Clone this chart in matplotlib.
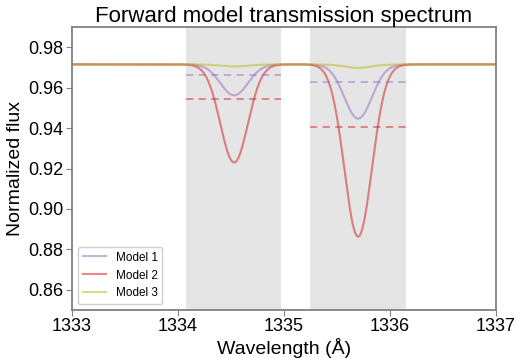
import numpy as np
import matplotlib
matplotlib.use("Agg")
import matplotlib.pyplot as plt

plt.rcParams['font.family'] = ['Liberation Sans', 'DejaVu Sans']

# ---- data ----
model_names = ["Model 1", "Model 2", "Model 3"]
continuum = 0.9715
line_centers = [1334.53, 1335.70]          # Å
line_sigma = [0.13, 0.13]                  # Å
depth_model1 = [0.0153, 0.0268]            # continuum - minimum
depth_model2 = [0.0485, 0.0852]
depth_model3 = [0.0010, 0.0017]
mean_model1 = [0.9665, 0.9627]             # dashed band means
mean_model2 = [0.9544, 0.9405]
band_lo = [1334.08, 1335.25]
band_hi = [1334.97, 1336.15]
x_ticks = [1333, 1334, 1335, 1336, 1337]
y_ticks = [0.86, 0.88, 0.90, 0.92, 0.94, 0.96, 0.98]

colors = ["#9467bd", "#d62728", "#bcbd22"]
alphas = [0.5, 0.55, 0.55]

wave = np.linspace(1333, 1337, 2000)

def profile(depths):
    f = np.full_like(wave, continuum)
    for c, s, d in zip(line_centers, line_sigma, depths):
        f -= d * np.exp(-0.5 * ((wave - c) / s) ** 2)
    return f

fig = plt.figure(figsize=(5.16, 3.58), dpi=100)
ax = fig.add_axes([0.1395, 0.134, 0.8215, 0.7906])

for lo, hi in zip(band_lo, band_hi):
    ax.axvspan(lo, hi, color='grey', alpha=0.2, lw=0)

for name, depths, col, a in zip(model_names,
                                [depth_model1, depth_model2, depth_model3],
                                colors, alphas):
    ax.plot(wave, profile(depths), color=col, alpha=a, lw=1.5, label=name)

for means, col, a in zip([mean_model1, mean_model2], colors[:2], alphas[:2]):
    for lo, hi, m in zip(band_lo, band_hi, means):
        ax.hlines(m, lo, hi, colors=col, alpha=a, lw=1.3, linestyles=(0, (4, 3)))

ax.set_xlim(1333, 1337)
ax.set_ylim(0.85, 0.99)
ax.set_xticks(x_ticks)
ax.set_xticklabels([str(t) for t in x_ticks])
ax.set_yticks(y_ticks)
ax.set_yticklabels([f"{t:.2f}" for t in y_ticks])
ax.tick_params(labelsize=13, direction='out', length=4, pad=2, color='#808080')
for sp in ax.spines.values():
    sp.set_color('#808080')
    sp.set_linewidth(1.3)

ax.set_xlabel("Wavelength (Å)", fontsize=14, labelpad=2)
ax.set_ylabel("Normalized flux", fontsize=14, labelpad=3)
ax.set_title("Forward model transmission spectrum", fontsize=16, pad=3)
ax.legend(loc='lower left', fontsize=8.5, framealpha=1, edgecolor='#d0d0d0')

fig.savefig("out.png", dpi=100)
